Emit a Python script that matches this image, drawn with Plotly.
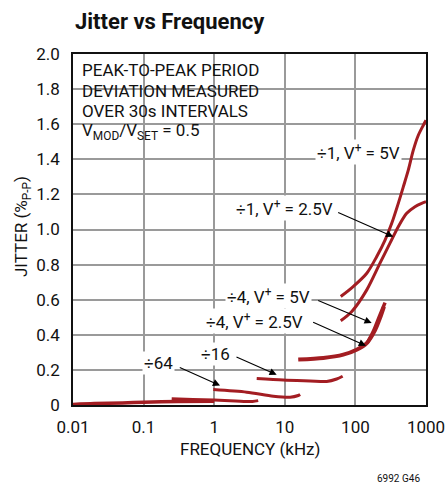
import numpy as np
import plotly.graph_objects as go

FONT = "Liberation Sans Narrow, Arial Narrow, Roboto, sans-serif"
RED = "#a31d22"

# curves: frequency (kHz) and jitter (%P-P)
div1_5v_f = [62, 93, 145, 200, 263, 327, 405, 477, 561, 661, 778, 916, 1000]
div1_5v_j = [0.618, 0.675, 0.751, 0.845, 0.940, 1.035, 1.149, 1.243, 1.338, 1.452, 1.537, 1.594, 1.622]

div1_25v_f = [62, 89, 145, 223, 309, 405, 533, 698, 869, 1000]
div1_25v_j = [0.48, 0.533, 0.656, 0.808, 0.922, 1.016, 1.092, 1.130, 1.149, 1.158]

div4_5v_f = [147, 179, 223, 263]
div4_5v_j = [0.353, 0.419, 0.514, 0.583]

div4_25v_f = [15.5, 35.1, 67.4, 104, 145, 190, 223, 254]
div4_25v_j = [0.259, 0.268, 0.287, 0.315, 0.353, 0.427, 0.495, 0.561]

div16_f = [4.0, 9.5, 22.8, 39.2, 54.3, 66]
div16_j = [0.151, 0.142, 0.137, 0.134, 0.148, 0.164]

div64_f = [0.97, 2.89, 6.88, 11.9, 15.5, 16.5]
div64_j = [0.088, 0.073, 0.050, 0.044, 0.054, 0.060]

div256_f = [0.25, 0.5, 1.0, 2.0, 3.5, 4.2]
div256_j = [0.036, 0.032, 0.028, 0.023, 0.020, 0.025]

div1024_f = [0.01, 0.02, 0.05, 0.1, 0.3, 1.0]
div1024_j = [0.003, 0.008, 0.012, 0.016, 0.020, 0.022]

curves = [
    (div1_5v_f, div1_5v_j, 3),
    (div1_25v_f, div1_25v_j, 3),
    (div4_5v_f, div4_5v_j, 3.5),
    (div4_25v_f, div4_25v_j, 4),
    (div16_f, div16_j, 3),
    (div64_f, div64_j, 3),
    (div256_f, div256_j, 3),
    (div1024_f, div1024_j, 3.5),
]

# labels: text, right edge freq (kHz), jitter
labels = [
    ("÷1, V<sup>+</sup> = 5V", 457, 1.44),
    ("÷1, V<sup>+</sup> = 2.5V", 51.4, 1.12),
    ("÷4, V<sup>+</sup> = 5V", 24.0, 0.619),
    ("÷4, V<sup>+</sup> = 2.5V", 19.3, 0.476),
    ("÷16", 1.77, 0.291),
    ("÷64", 0.279, 0.240),
]

# arrows: tail (kHz, jitter) -> tip (kHz, jitter)
arrows = [
    ((54.3, 1.101), (344, 0.959)),
    ((28.3, 0.599), (170, 0.467)),
    ((24.0, 0.476), (141, 0.338)),
    ((1.97, 0.277), (7.67, 0.173)),
    ((0.31, 0.217), (1.21, 0.111)),
]

note_lines = [
    "PEAK-TO-PEAK PERIOD",
    "DEVIATION MEASURED",
    "OVER 30s INTERVALS",
    "V<sub>MOD</sub>/V<sub>SET</sub> = 0.5",
]

x_ticks = [0.01, 0.1, 1, 10, 100, 1000]
x_ticktext = ["0.01", "0.1", "1", "10", "100", "1000"]
y_ticks = [0, 0.2, 0.4, 0.6, 0.8, 1.0, 1.2, 1.4, 1.6, 1.8, 2.0]
y_ticktext = ["0", "0.2", "0.4", "0.6", "0.8", "1.0", "1.2", "1.4", "1.6", "1.8", "2.0"]

fig = go.Figure()
for f, j, w in curves:
    fig.add_trace(
        go.Scatter(
            x=f, y=j, mode="lines",
            line=dict(color=RED, width=w, shape="spline", smoothing=0.8),
            hoverinfo="skip",
        )
    )

# white box behind the note, hides the grid
fig.add_shape(
    type="rect", xref="paper", yref="paper",
    x0=0, x1=0.54, y0=0.726, y1=1.0,
    fillcolor="white", line=dict(width=0), layer="between",
)

annotations = []
for i, line in enumerate(note_lines):
    annotations.append(dict(
        text=line, xref="paper", yref="paper",
        x=0.02, y=(405.5 - (70 + 20.3 * i)) / 352,
        xanchor="left", yanchor="middle", showarrow=False,
        font=dict(family=FONT, size=17, color="#111"),
    ))

for text, f, j in labels:
    annotations.append(dict(
        text=text, xref="x", yref="y", x=np.log10(f), y=j,
        xanchor="right", yanchor="middle", showarrow=False,
        bgcolor="white", borderpad=1,
        font=dict(family=FONT, size=17, color="#111"),
    ))

for (tf, tj), (hf, hj) in arrows:
    annotations.append(dict(
        text="", xref="x", yref="y", x=np.log10(hf), y=hj,
        axref="x", ayref="y", ax=np.log10(tf), ay=tj,
        showarrow=True, arrowhead=2, arrowsize=1.3, arrowwidth=1.1,
        arrowcolor="black", standoff=0, startstandoff=0,
    ))

annotations += [
    dict(text="<b>Jitter vs Frequency</b>", xref="paper", yref="paper",
         x=0.0, y=(405.5 - 21) / 352, xanchor="left", yanchor="middle",
         showarrow=False, font=dict(family=FONT, size=22, color="#111")),
    dict(text="FREQUENCY (kHz)", xref="paper", yref="paper",
         x=0.5, y=(405.5 - 450) / 352, xanchor="center", yanchor="middle",
         showarrow=False, font=dict(family=FONT, size=17, color="#111")),
    dict(text="JITTER (%<sub>P-P</sub>)", xref="paper", yref="paper",
         x=(22 - 73) / 353, y=(405.5 - 227) / 352, xanchor="center", yanchor="middle",
         textangle=-90, showarrow=False, font=dict(family=FONT, size=17, color="#111")),
    dict(text="6992 G46", xref="paper", yref="paper",
         x=0.99, y=(405.5 - 479) / 352, xanchor="right", yanchor="middle",
         showarrow=False, font=dict(family=FONT, size=10, color="#111")),
]

fig.update_layout(
    width=446, height=484,
    margin=dict(l=73, r=20, t=54, b=78.5),
    paper_bgcolor="white", plot_bgcolor="white",
    showlegend=False,
    annotations=annotations,
    font=dict(family=FONT, size=17, color="#111"),
)
fig.update_xaxes(
    type="log", range=[-2, 3], automargin=False,
    tickvals=x_ticks, ticktext=x_ticktext,
    showgrid=True, gridcolor="#9a9a9a", gridwidth=1.5,
    showline=True, linecolor="#111", linewidth=1.5, mirror=True,
    ticks="outside", ticklen=6, tickcolor="rgba(0,0,0,0)",
    tickfont=dict(family=FONT, size=17, color="#111"),
    zeroline=False,
)
fig.update_yaxes(
    range=[0, 2], automargin=False,
    tickvals=y_ticks, ticktext=y_ticktext,
    showgrid=True, gridcolor="#9a9a9a", gridwidth=1.5,
    showline=True, linecolor="#111", linewidth=1.5, mirror=True,
    ticks="outside", ticklen=8, tickcolor="rgba(0,0,0,0)",
    tickfont=dict(family=FONT, size=17, color="#111"),
    zeroline=False,
)

# page has a default 8px body margin; drop it so the figure fills the window
fig.write_html(
    "out.html",
    config={"displayModeBar": False},
    post_script="document.body.style.margin='0';",
)
